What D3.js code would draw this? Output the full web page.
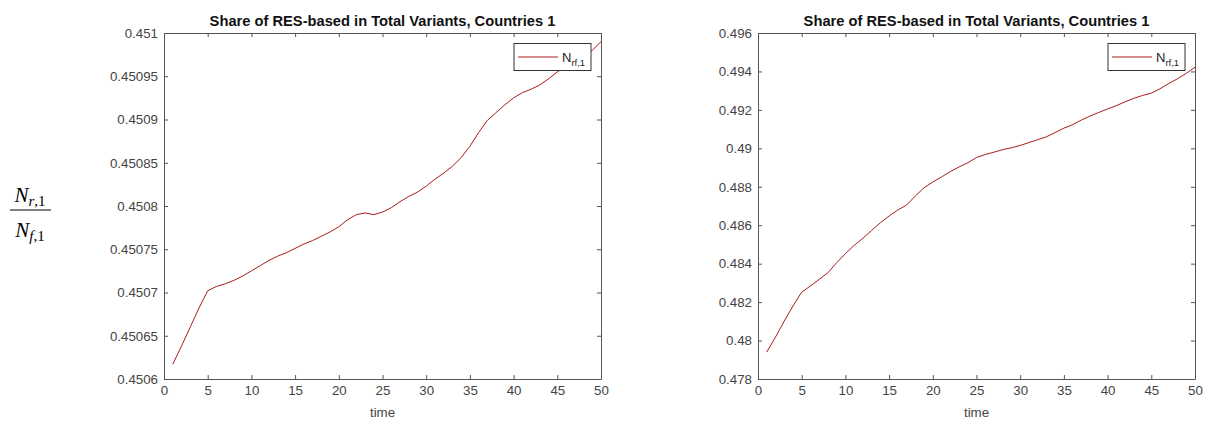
<!DOCTYPE html>
<html>
<head>
<meta charset="utf-8">
<script src="https://cdn.jsdelivr.net/npm/d3@7"></script>
<style>
  html, body { margin: 0; padding: 0; background: #fff; }
  svg { display: block; }
  text { font-family: "Liberation Sans", Arial, sans-serif; }
  text.math { font-family: "Liberation Serif", "DejaVu Serif", serif; }
</style>
</head>
<body>
<svg id="fig" width="1210" height="421"></svg>
<script>
// time steps on the horizontal axis
const time = [1,2,3,4,5,6,7,8,9,10,11,12,13,14,15,16,17,18,19,20,21,22,23,24,25,
              26,27,28,29,30,31,32,33,34,35,36,37,38,39,40,41,42,43,44,45,46,47,48,49,50];

// N_r,1 / N_f,1 share, first panel
const shareLeft = [0.450617,0.450638,0.450660,0.450682,0.450702,0.450707,0.450710,0.450714,0.450719,0.450725,
                   0.450731,0.450737,0.450742,0.450746,0.450751,0.450756,0.450760,0.450765,0.450770,0.450776,
                   0.450784,0.450790,0.450792,0.450790,0.450793,0.450798,0.450805,0.450811,0.450816,0.450823,
                   0.450831,0.450838,0.450846,0.450856,0.450869,0.450885,0.450899,0.450908,0.450917,0.450925,
                   0.450931,0.450935,0.450940,0.450947,0.450955,0.450961,0.450966,0.450972,0.450980,0.450990];

// N_r,1 / N_f,1 share, second panel
const shareRight = [0.47940,0.48018,0.48101,0.48180,0.48252,0.48284,0.48318,0.48353,0.48405,0.48452,
                    0.48495,0.48532,0.48573,0.48613,0.48648,0.48679,0.48705,0.48752,0.48795,0.48825,
                    0.48851,0.48879,0.48903,0.48925,0.48952,0.48968,0.48980,0.48993,0.49003,0.49015,
                    0.49030,0.49045,0.49060,0.49082,0.49105,0.49123,0.49147,0.49168,0.49187,0.49205,
                    0.49222,0.49242,0.49260,0.49275,0.49287,0.49310,0.49337,0.49362,0.49390,0.49422];

const xTicks = [0,5,10,15,20,25,30,35,40,45,50];
const yTicksLeft = [0.4506,0.45065,0.4507,0.45075,0.4508,0.45085,0.4509,0.45095,0.451];
const yTicksRight = [0.478,0.48,0.482,0.484,0.486,0.488,0.49,0.492,0.494,0.496];

const titleText = "Share of RES-based in Total Variants, Countries 1";
const xLabel = "time";

const svg = d3.select("#fig");
const axisColor = "#555";
const labelColor = "#444";
const lineColor = "#a81c1c";

function panel(left, right, values, yTicks, digits) {
  const top = 33, bottom = 379;
  const x = d3.scaleLinear().domain([0, 50]).range([left, right]);
  const y = d3.scaleLinear().domain([yTicks[0], yTicks[yTicks.length - 1]]).range([bottom, top]);
  const fmt = d => String(+d.toFixed(digits));
  const g = svg.append("g");

  // white plotting area
  g.append("rect").attr("x", left).attr("y", top)
    .attr("width", right - left).attr("height", bottom - top)
    .attr("fill", "#fff").attr("stroke", "none");

  const styleAxis = sel => {
    sel.selectAll("path.domain").attr("stroke", axisColor).attr("stroke-width", 1);
    sel.selectAll(".tick line").attr("stroke", axisColor).attr("stroke-width", 1);
    sel.selectAll(".tick text").attr("fill", labelColor)
      .style("font-family", "'Liberation Sans', Arial, sans-serif").style("font-size", "13.3px");
  };

  // box axes with inward ticks on all four sides
  g.append("g").attr("transform", `translate(0,${bottom})`)
    .call(d3.axisBottom(x).tickValues(xTicks).tickFormat(d => String(d)).tickSizeInner(-4).tickSizeOuter(0).tickPadding(7))
    .call(styleAxis);
  g.append("g").attr("transform", `translate(0,${top})`)
    .call(d3.axisTop(x).tickValues(xTicks).tickFormat("").tickSizeInner(-4).tickSizeOuter(0))
    .call(styleAxis);
  g.append("g").attr("transform", `translate(${left},0)`)
    .call(d3.axisLeft(y).tickValues(yTicks).tickFormat(fmt).tickSizeInner(-4).tickSizeOuter(0).tickPadding(6))
    .call(styleAxis);
  g.append("g").attr("transform", `translate(${right},0)`)
    .call(d3.axisRight(y).tickValues(yTicks).tickFormat("").tickSizeInner(-4).tickSizeOuter(0))
    .call(styleAxis);

  // data line
  const line = d3.line().x((d, i) => x(time[i])).y(d => y(d));
  g.append("path").datum(values)
    .attr("d", line).attr("fill", "none")
    .attr("stroke", lineColor).attr("stroke-width", 1);

  // title
  g.append("text").attr("x", (left + right) / 2).attr("y", 26)
    .attr("text-anchor", "middle").attr("font-weight", "bold")
    .attr("font-size", "14.7px").attr("fill", "#111").text(titleText);

  // x axis label
  g.append("text").attr("x", (left + right) / 2).attr("y", 417)
    .attr("text-anchor", "middle").attr("font-size", "13.3px")
    .attr("fill", labelColor).text(xLabel);

  // legend
  const lx = right - 87, ly = top + 10.5, lw = 77, lh = 27;
  const lg = g.append("g");
  lg.append("rect").attr("x", lx).attr("y", ly).attr("width", lw).attr("height", lh)
    .attr("fill", "#fff").attr("stroke", "#333").attr("stroke-width", 1);
  lg.append("line").attr("x1", lx + 4).attr("x2", lx + 44)
    .attr("y1", ly + lh / 2).attr("y2", ly + lh / 2)
    .attr("stroke", lineColor).attr("stroke-width", 1);
  const lt = lg.append("text").attr("x", lx + 48).attr("y", ly + 18)
    .attr("font-size", "13px").attr("fill", "#222");
  lt.append("tspan").text("N");
  lt.append("tspan").attr("dy", 4).attr("font-size", "9.5px").text("rf,1");
}

panel(164, 601, shareLeft, yTicksLeft, 5);
panel(758, 1195, shareRight, yTicksRight, 3);

// ratio label on the far left, set in a serif math style
const frac = svg.append("g").attr("fill", "#000");
function fracTerm(y, sub) {
  const t = frac.append("text").attr("class", "math").attr("x", 30).attr("y", y)
    .attr("text-anchor", "middle").attr("font-size", "21px");
  t.append("tspan").attr("font-style", "italic").text("N");
  t.append("tspan").attr("font-style", "italic").attr("font-size", "15px").attr("dy", 4).text(sub);
  t.append("tspan").attr("font-size", "15px").text(",1");
}
fracTerm(202, "r");
frac.append("line").attr("x1", 10).attr("x2", 51).attr("y1", 210).attr("y2", 210)
  .attr("stroke", "#000").attr("stroke-width", 1.2);
fracTerm(237, "f");
</script>
</body>
</html>
